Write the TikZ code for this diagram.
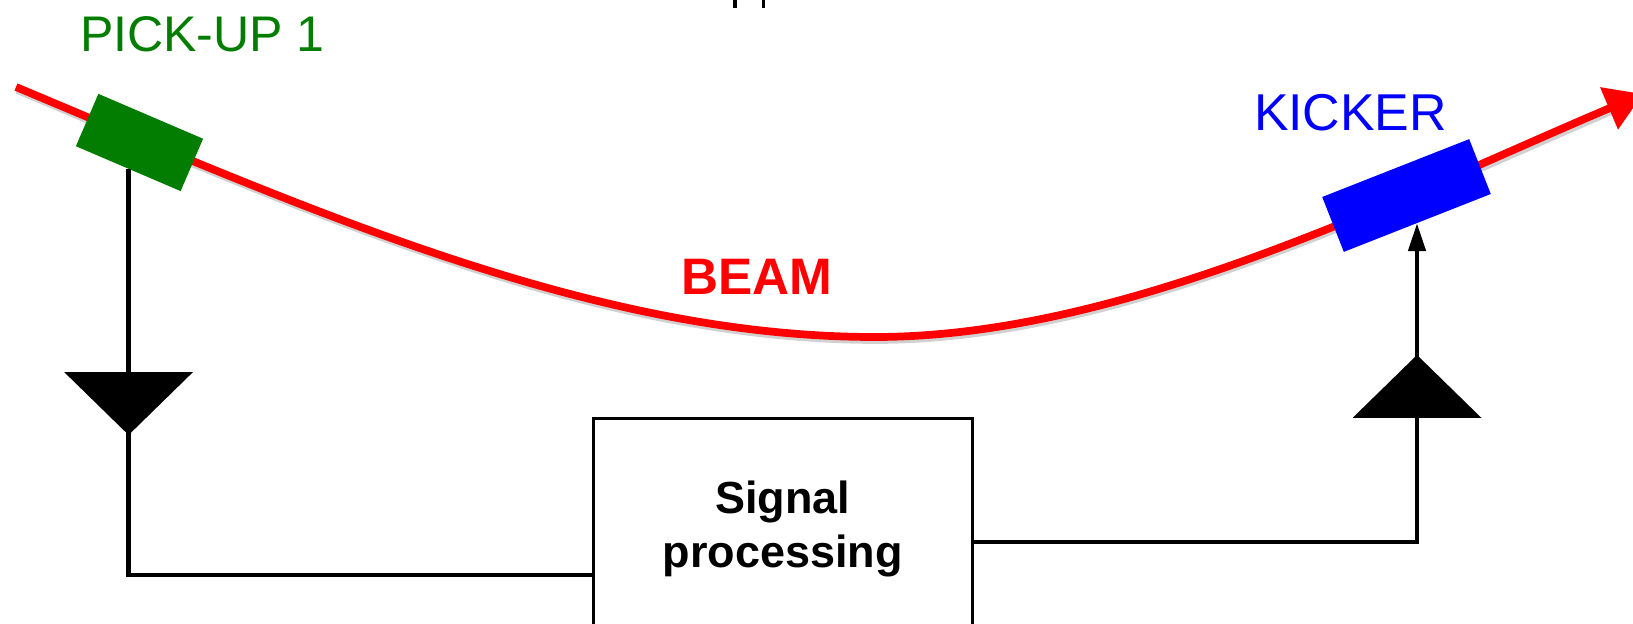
\documentclass[tikz,border=0pt]{standalone}
\usepackage{fontspec}
\setmainfont{Liberation Sans}
\usepackage{xcolor}
\usetikzlibrary{arrows.meta,shapes.geometric,positioning,calc}
\definecolor{pickgreen}{RGB}{2,125,2}
\newcommand{\beamcurve}{(beamstart) .. controls (316,213) and (595,337) .. (beamlow)
		.. controls (1125,337) and (1400,197) .. (beamend)}
\tikzset{
	beamline/.style={draw=red,line width=4.4pt},
	beamshade/.style={draw=black!18,line width=4.4pt},
	sigline/.style={draw=black,line width=2.8pt},
	blocknode/.style={shape=rectangle,draw=none,inner sep=0pt,outer sep=0pt},
	amptri/.style={shape=isosceles triangle,fill=black,inner sep=0pt,outer sep=0pt,
		isosceles triangle stretches,minimum width=2.58cm,minimum height=1.26cm},
	bigtext/.style={inner sep=0pt,outer sep=0pt,anchor=base west},
}

\begin{document}
\begin{tikzpicture}[x=0.02cm,y=-0.02cm]
	\useasboundingbox (0,0) rectangle (1633,624);
	% beam
	\coordinate (beamstart) at (16,87);
	\coordinate (beamlow) at (875,337);
	\coordinate (beamend) at (1643,94);
	\begin{scope}[transform canvas={shift={(0.7pt,-1.7pt)}}]
		\draw[beamshade] \beamcurve;
	\end{scope}
	\draw[beamline,-{Triangle[length=21pt,width=25pt]}] \beamcurve;
	\node[bigtext,text=red,font=\fontsize{29.2}{34}\selectfont\bfseries](beamlabel) at (681,295) {BEAM};
	% blocks on the beam
	\node[blocknode,fill=pickgreen,rotate=-23.2,minimum width=2.28cm,minimum height=1.14cm](pickup) at (139.5,142.5) {};
	\node[blocknode,fill=blue,rotate=21.5,minimum width=3.16cm,minimum height=1.18cm](kicker) at (1406.5,195.5) {};
	\node[bigtext,text=pickgreen,font=\fontsize{28.5}{34}\selectfont](pickuplabel) at (80,52) {PICK-UP 1};
	\node[bigtext,text=blue,font=\fontsize{29.5}{34}\selectfont](kickerlabel) at (1254,131) {KICKER};
	% signal path
	\coordinate (pickupout) at (128.6,169);
	\coordinate (ampintip) at (128.6,435);
	\coordinate (incorner) at (128.6,575);
	\coordinate (outcorner) at (1417,542);
	\coordinate (ampouttip) at (1417,355);
	\coordinate (kickerin) at (1417,223);
	% processing box
	\node[draw=black,line width=1.7pt,fill=white,inner sep=0pt,minimum width=7.57cm,minimum height=4.44cm,
		align=center,font=\fontsize{25.6}{30.6}\selectfont\bfseries](proc) at (782.8,529) {Signal\\processing};
	\coordinate (procin) at (proc.west |- incorner);
	\coordinate (procout) at (proc.east |- outcorner);
	\draw[sigline](pickupout) -- (ampintip) -- (incorner) -- (procin);
	\draw[sigline](procout) -- (outcorner) -- (ampouttip);
	\draw[sigline,-{Triangle[length=16pt,width=9.6pt]}](ampouttip) -- (kickerin);
	% amplifiers
	\node[amptri,shape border rotate=-90,anchor=apex](ampin) at (ampintip) {};
	\node[amptri,shape border rotate=90,anchor=apex](ampout) at (ampouttip) {};
	% bits cut off by the top edge
	\coordinate (stuba) at (735,0);
	\coordinate (stubb) at (763.5,0);
	\draw[sigline,line width=2.2pt](stuba) -- ++(0,8);
	\draw[sigline,line width=2.2pt](stubb) -- ++(0,8);
\end{tikzpicture}
\end{document}
